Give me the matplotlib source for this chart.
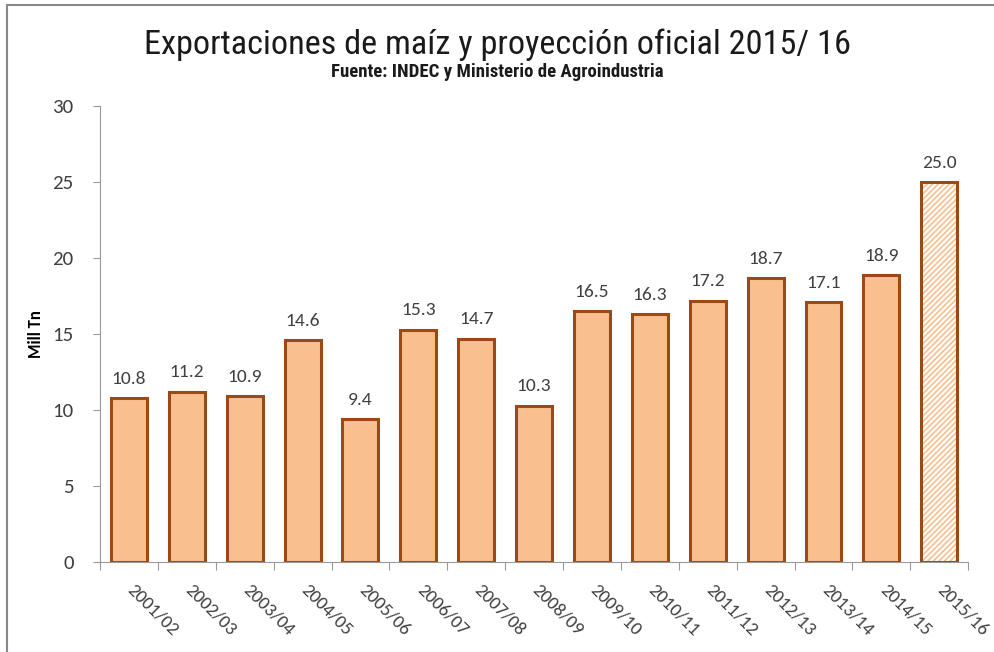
import numpy as np
import matplotlib.pyplot as plt
from matplotlib.patches import Rectangle

campanas = ['2001/02', '2002/03', '2003/04', '2004/05', '2005/06', '2006/07', '2007/08',
            '2008/09', '2009/10', '2010/11', '2011/12', '2012/13', '2013/14', '2014/15', '2015/16']
exportaciones = [10.8, 11.2, 10.9, 14.6, 9.4, 15.3, 14.7, 10.3, 16.5, 16.3, 17.2, 18.7, 17.1, 18.9, 25.0]
proyeccion = [False] * 14 + [True]

fill = '#F9BF8F'
edge = '#9A4A14'
txt = '#404040'
calibri = ['Carlito', 'DejaVu Sans']
condensed = ['Roboto Condensed', 'Barlow Condensed', 'DejaVu Sans']

plt.rcParams['hatch.linewidth'] = 1.2
plt.rcParams['font.family'] = calibri

fig = plt.figure(figsize=(9.95, 6.52), dpi=100)
ax = fig.add_axes([0.1005, 0.138, 0.8725, 0.699])

x = np.arange(len(campanas))
for i in x:
    if proyeccion[i]:
        ax.bar(i, exportaciones[i], width=0.62, color='white', edgecolor=fill, hatch='//////', linewidth=0)
        ax.bar(i, exportaciones[i], width=0.62, color='none', edgecolor=edge, linewidth=2.2)
    else:
        ax.bar(i, exportaciones[i], width=0.62, color=fill, edgecolor=edge, linewidth=2.2)
    ax.text(i, exportaciones[i] + 0.75, f'{exportaciones[i]:.1f}', ha='center', va='bottom',
            fontsize=14, color=txt)

ax.set_xlim(-0.5, len(campanas) - 0.5)
ax.set_ylim(0, 30)
ax.set_yticks(range(0, 31, 5))
ax.tick_params(axis='y', labelsize=15, colors='#999999', labelcolor=txt, length=5, pad=14)
ax.set_xticks(list(x - 0.5) + [len(campanas) - 0.5])
ax.set_xticklabels([])
ax.tick_params(axis='x', length=6, color='#999999')
for i, lab in enumerate(campanas):
    ax.text(i + 0.12, -1.3, lab, rotation=-45, ha='left', va='top', rotation_mode='anchor',
            fontsize=13.5, color=txt)

for s in ['top', 'right']:
    ax.spines[s].set_visible(False)
ax.spines['left'].set_color('#999999')
ax.spines['bottom'].set_color('#999999')

ax.set_ylabel('Mill Tn', fontsize=12, fontweight='bold', color='black', labelpad=6)

fig.text(0.5, 0.931, 'Exportaciones de maíz y proyección oficial 2015/ 16', ha='center', va='center',
         fontsize=24.7, family=condensed, color='#1a1a1a')
fig.text(0.5, 0.889, 'Fuente: INDEC y Ministerio de Agroindustria', ha='center', va='center',
         fontsize=13.5, fontweight='bold', family=condensed, color='#1a1a1a')

fig.add_artist(Rectangle((0.007, -0.1), 1.2, 1.093, transform=fig.transFigure,
                         fill=False, edgecolor='#888888', linewidth=1.5))

fig.savefig('out.png', dpi=100)
